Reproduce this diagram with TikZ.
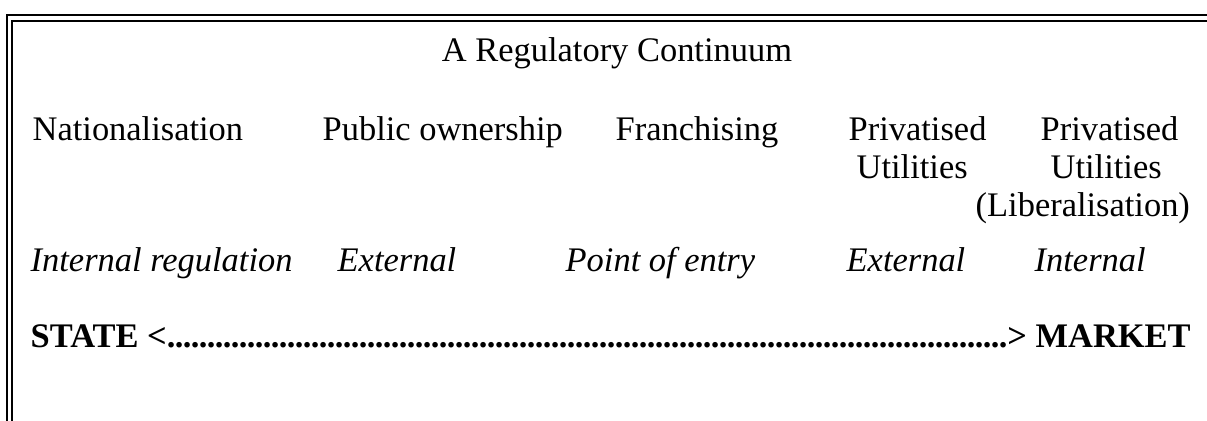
\documentclass[tikz,border=0pt]{standalone}
\usepackage{fontspec}
\setmainfont{Liberation Serif}
\newcommand{\dotrun}{\cleaders\hbox to 0.8mm{\hss.\hss}\hfill}
\begin{document}
\begin{tikzpicture}[x=0.1mm, y=-0.1mm,
  every node/.style={inner sep=0pt, anchor=base west, font=\fontsize{9.8}{12}\selectfont},
  frame/.style={double, double distance=0.35mm, line width=0.55pt},
  kind/.style={font=\fontsize{9.8}{12}\selectfont\itshape}]
  \useasboundingbox (0,0) rectangle (1207,421);
  % frame, open at the bottom and on the right
  \draw[frame] (9.5,421) -- (9.5,18) -- (1207,18);
  % title
  \node[anchor=base] (title) at (617,62) {A Regulatory Continuum};
  % forms of ownership
  \node (nat) at (32,140) {Nationalisation};
  \node (pub) at (322,140) {Public ownership};
  \node (fran) at (615,140) {Franchising};
  \node (priv) at (848,140) {Privatised};
  \node (privu) at (856,178) {Utilities};
  \node (lib) at (1040,140) {Privatised};
  \node (libu) at (1050,178) {Utilities};
  \node (libl) at (975,216) {(Liberalisation)};
  % kind of regulation
  \node[kind] (natk) at (30,271) {Internal regulation};
  \node[kind] (pubk) at (337,271) {External};
  \node[kind] (frank) at (565,271) {Point of entry};
  \node[kind] (privk) at (846,271) {External};
  \node[kind] (libk) at (1034,271) {Internal};
  % state--market axis
  \node (axis) at (30,348)
    {\hbox to 116mm{\bfseries STATE <\dotrun> MARKET}};
\end{tikzpicture}
\end{document}
